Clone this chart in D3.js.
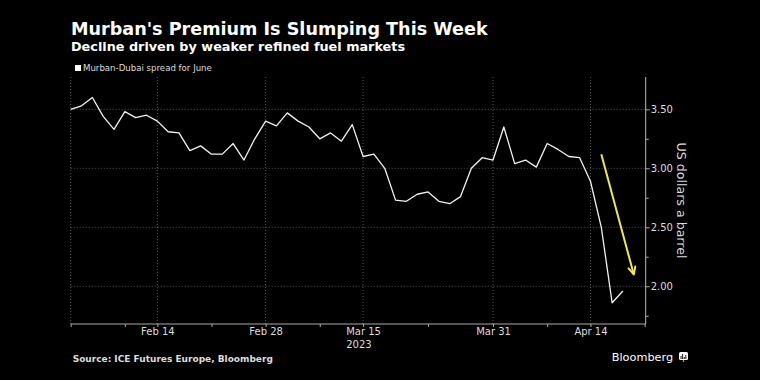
<!DOCTYPE html>
<html>
<head>
<meta charset="utf-8">
<script src="https://cdn.jsdelivr.net/npm/d3@7"></script>
<style>
body { margin: 0; background: #000; }
svg { display: block; }
</style>
</head>
<body>
<svg id="chart" width="760" height="380"></svg>
<script>
// Murban-Dubai spread for June, one value per trading day
var spread = [3.50, 3.53, 3.60, 3.44, 3.33, 3.48, 3.43, 3.45, 3.40, 3.31,
    3.30, 3.15, 3.19, 3.12, 3.12, 3.21, 3.07, 3.25, 3.40, 3.36,
    3.47, 3.40, 3.35, 3.25, 3.30, 3.23, 3.37, 3.10, 3.12, 3.00,
    2.73, 2.72, 2.78, 2.80, 2.72, 2.70, 2.76, 3.00, 3.09, 3.07,
    3.35, 3.04, 3.07, 3.01, 3.21, 3.16, 3.10, 3.09, 2.89, 2.50,
    1.86, 1.96];
var tickLabels = ["Feb 14", "Feb 28", "Mar 15", "Mar 31", "Apr 14"];
var tickDays = [8, 18, 27, 39, 48];
var minorDays = [0, 5, 13, 23, 33, 44, 53];
var yTicks = [2.0, 2.5, 3.0, 3.5];
var yMinor = [1.75, 2.25, 2.75, 3.25];
// yellow arrow, in data units [day, value]
var arrowFrom = [49.0, 3.12];
var arrowTo = [52.0, 2.10];

var svg = d3.select("#chart");
var plotLeft = 70.7, plotRight = 645.7, plotTop = 77, plotBottom = 324;
var grid = "#5a5a5a";
var font = "DejaVu Sans, sans-serif";

svg.append("rect").attr("width", 760).attr("height", 380).attr("fill", "#000");

var x = d3.scaleLinear().domain([0, 53.1]).range([plotLeft, plotRight]);
var y = d3.scaleLinear().domain([1.68, 3.774]).range([plotBottom, plotTop]);

//titles
svg.append("text").attr("x", 71).attr("y", 35)
    .attr("font-family", font).attr("font-weight", "bold").attr("font-size", 17.6)
    .attr("fill", "#fff").text("Murban's Premium Is Slumping This Week");
svg.append("text").attr("x", 71).attr("y", 51)
    .attr("font-family", font).attr("font-weight", "bold").attr("font-size", 12.8)
    .attr("fill", "#fff").text("Decline driven by weaker refined fuel markets");
svg.append("rect").attr("x", 75).attr("y", 65).attr("width", 6).attr("height", 6).attr("fill", "#fff");
svg.append("text").attr("x", 83).attr("y", 71.3)
    .attr("font-family", font).attr("font-size", 8.6)
    .attr("fill", "#ddd").text("Murban-Dubai spread for June");

//grid
svg.append("g").selectAll("line").data(yTicks).enter().append("line")
    .attr("x1", plotLeft).attr("x2", plotRight)
    .attr("y1", function (d) { return y(d); })
    .attr("y2", function (d) { return y(d); })
    .attr("stroke", grid).attr("stroke-dasharray", "1,2");
svg.append("g").selectAll("line").data([0].concat(tickDays)).enter().append("line")
    .attr("x1", function (d) { return x(d); })
    .attr("x2", function (d) { return x(d); })
    .attr("y1", plotTop).attr("y2", plotBottom)
    .attr("stroke", grid).attr("stroke-dasharray", "1,2");

//x axis
var xAxis = svg.append("g").attr("transform", "translate(0," + plotBottom + ")")
    .call(d3.axisBottom(x).tickValues(tickDays)
        .tickFormat(function (d, i) { return tickLabels[i]; })
        .tickSize(3).tickPadding(1));
svg.append("g").attr("transform", "translate(0," + plotBottom + ")")
    .call(d3.axisBottom(x).tickValues(minorDays).tickFormat("").tickSize(3))
    .select(".domain").remove();
xAxis.select(".domain").attr("d", "M" + plotLeft + ",0H" + plotRight).attr("stroke", "#aaa");
xAxis.selectAll("text").attr("font-family", font).attr("font-size", 10).attr("fill", "#ddd");
var midTick = xAxis.selectAll(".tick").filter(function (d) { return d === 27; });
var w = midTick.select("text").node().getComputedTextLength();
midTick.append("text").attr("x", -w / 2).attr("y", 24.3).attr("text-anchor", "start")
    .attr("font-family", font).attr("font-size", 10).attr("fill", "#ddd").text("2023");

//y axis
var yAxis = svg.append("g").attr("transform", "translate(" + plotRight + ",0)")
    .call(d3.axisRight(y).tickValues(yTicks).tickFormat(d3.format(".2f"))
        .tickSize(4).tickPadding(1));
svg.append("g").attr("transform", "translate(" + plotRight + ",0)")
    .call(d3.axisRight(y).tickValues(yMinor).tickFormat("").tickSize(3))
    .select(".domain").remove();
yAxis.select(".domain").attr("d", "M0," + plotTop + "V" + plotBottom).attr("stroke", "#bbb");
yAxis.selectAll("text").attr("font-family", font).attr("font-size", 10).attr("fill", "#ddd");
svg.selectAll(".tick line").attr("stroke", "#aaa");
svg.append("text")
    .attr("transform", "translate(677," + ((plotTop + plotBottom) / 2) + ") rotate(90)")
    .attr("text-anchor", "middle")
    .attr("font-family", font).attr("font-size", 12.6)
    .attr("fill", "#ddd").text("US dollars a barrel");

//line
var line = d3.line()
    .x(function (d, i) { return x(i); })
    .y(function (d) { return y(d); });
svg.append("path").datum(spread)
    .attr("d", line)
    .attr("fill", "none")
    .attr("stroke", "#f2f2f2")
    .attr("stroke-width", 1.3)
    .attr("stroke-linejoin", "round");

//arrow
var x0 = x(arrowFrom[0]), y0 = y(arrowFrom[1]);
var x1 = x(arrowTo[0]), y1 = y(arrowTo[1]);
var ang = Math.atan2(y1 - y0, x1 - x0);
var head = 8, headAng = 0.45;
var yellow = "#f0e65a";
svg.append("line").attr("x1", x0).attr("y1", y0).attr("x2", x1).attr("y2", y1)
    .attr("stroke", yellow).attr("stroke-width", 2);
svg.append("path")
    .attr("d", "M" + (x1 - head * Math.cos(ang - headAng)) + "," + (y1 - head * Math.sin(ang - headAng)) +
        "L" + x1 + "," + y1 +
        "L" + (x1 - head * Math.cos(ang + headAng)) + "," + (y1 - head * Math.sin(ang + headAng)))
    .attr("fill", "none").attr("stroke", yellow).attr("stroke-width", 2)
    .attr("stroke-linecap", "round").attr("stroke-linejoin", "round");

//footer
svg.append("text").attr("x", 72.7).attr("y", 361.7)
    .attr("font-family", font).attr("font-weight", "bold").attr("font-size", 9)
    .attr("fill", "#ddd").text("Source: ICE Futures Europe, Bloomberg");
svg.append("text").attr("x", 611.7).attr("y", 360.7)
    .attr("font-family", font).attr("font-size", 11.3)
    .attr("fill", "#fff").text("Bloomberg");
var logo = svg.append("g").attr("transform", "translate(679,352)");
logo.append("rect").attr("width", 9).attr("height", 8).attr("rx", 1.5).attr("fill", "#fff");
logo.append("path").attr("d", "M3.5,9.5L4.5,8L5.5,9.5Z").attr("fill", "#fff");
logo.selectAll("rect.bar").data([3, 5, 2, 4]).enter().append("rect")
    .attr("x", function (d, i) { return 1.6 + i * 1.6; })
    .attr("y", function (d) { return 7 - d; })
    .attr("width", 0.9)
    .attr("height", function (d) { return d; })
    .attr("fill", "#000");
</script>
</body>
</html>
